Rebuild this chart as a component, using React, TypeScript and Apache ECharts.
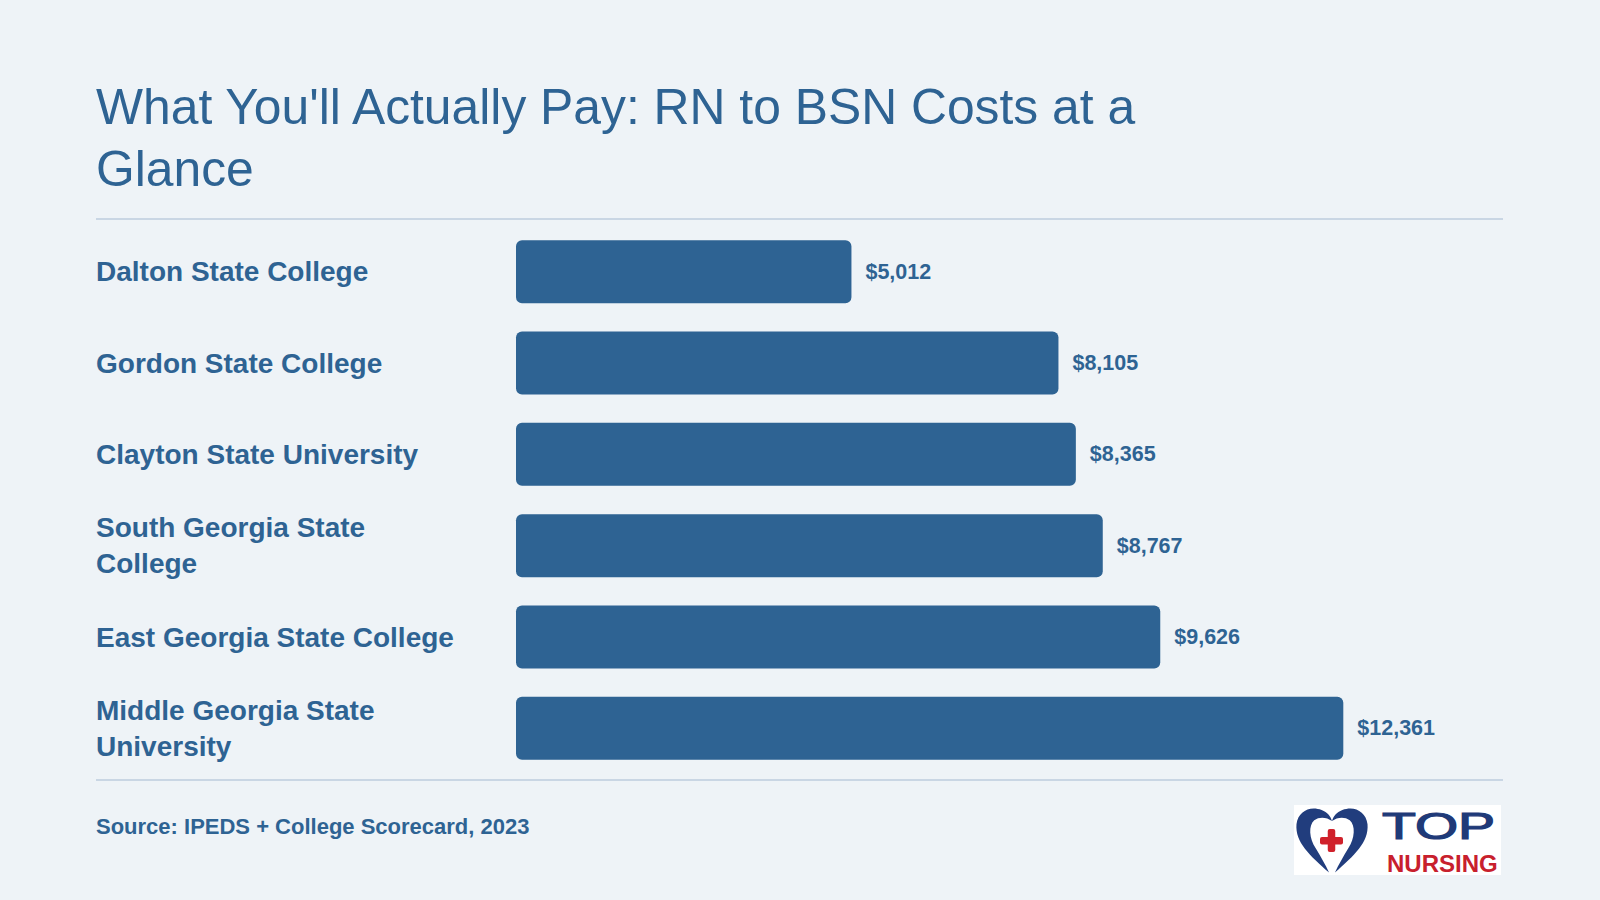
import React, { useEffect, useRef } from 'react';
import * as echarts from 'echarts';

const categories = [
  'Dalton State College',
  'Gordon State College',
  'Clayton State University',
  'South Georgia State College',
  'East Georgia State College',
  'Middle Georgia State University',
];
const costs = [5012, 8105, 8365, 8767, 9626, 12361];

const titleText = "What You'll Actually Pay: RN to BSN Costs at a\nGlance";
const sourceText = 'Source: IPEDS + College Scorecard, 2023';

const FONT = '"Liberation Sans", Arial, Helvetica, sans-serif';
const BLUE = '#2e6393';
const BG = '#eef3f7';
const RULE = '#c9d6e4';

const HEART_D =
  'M46 84 C20 62 0 45 2 22 C4 6 20 -2 36 4 C44 7 48 12 50 18 C43 13 33 12 26 17 C18 24 19 40 28 53 C35 64 41 74 46 84 Z ' +
  'M54 84 C80 62 100 45 98 22 C96 6 80 -2 64 4 C56 7 52 12 50 18 C57 13 67 12 74 17 C82 24 81 40 72 53 C65 64 59 74 54 84 Z';

let registered = false;
function ensureShape() {
  if (registered) return;
  echarts.graphic.registerShape('heartLogo', echarts.graphic.extendPath(HEART_D, {}) as any);
  registered = true;
}

export default function App() {
  const ref = useRef<HTMLDivElement>(null);

  useEffect(() => {
    document.body.style.margin = '0';
    document.body.style.background = BG;
    if (!ref.current) return;
    ensureShape();
    const chart = echarts.init(ref.current, undefined, { renderer: 'svg' });
    chart.setOption({
      animation: false,
      backgroundColor: BG,
      title: {
        text: titleText,
        left: 96,
        top: 76,
        padding: 0,
        textStyle: {
          fontFamily: FONT,
          fontSize: 49.8,
          fontWeight: 'normal',
          lineHeight: 62,
          color: BLUE,
        },
      },
      grid: { left: 516, top: 226, height: 548, width: 937, containLabel: false },
      xAxis: {
        type: 'value',
        min: 0,
        max: 14000,
        show: false,
      },
      yAxis: {
        type: 'category',
        inverse: true,
        data: categories,
        axisLine: { show: false },
        axisTick: { show: false },
        splitLine: { show: false },
        axisLabel: {
          interval: 0,
          align: 'left',
          margin: 420,
          fontFamily: FONT,
          fontSize: 28,
          fontWeight: 'bold',
          color: BLUE,
          width: 370,
          overflow: 'break',
          lineHeight: 36,
        },
      },
      series: [
        {
          type: 'bar',
          data: costs,
          barWidth: 63,
          itemStyle: { color: BLUE, borderRadius: 6 },
          label: {
            show: true,
            position: 'right',
            distance: 14,
            fontFamily: FONT,
            fontSize: 21.5,
            fontWeight: 'bold',
            color: BLUE,
            formatter: (p: any) => '$' + Number(p.value).toLocaleString('en-US'),
          },
        },
      ],
      graphic: [
        {
          type: 'line',
          shape: { x1: 96, y1: 219, x2: 1503, y2: 219 },
          style: { stroke: RULE, lineWidth: 2 },
        },
        {
          type: 'line',
          shape: { x1: 96, y1: 780, x2: 1503, y2: 780 },
          style: { stroke: RULE, lineWidth: 2 },
        },
        {
          type: 'text',
          x: 96,
          y: 826.5,
          style: {
            text: sourceText,
            fill: BLUE,
            font: `bold 22px ${FONT}`,
            verticalAlign: 'middle',
            align: 'left',
          },
        },
        {
          type: 'group',
          children: [
            {
              type: 'rect',
              shape: { x: 1294, y: 805, width: 207, height: 70 },
              style: { fill: '#ffffff' },
            },
            {
              type: 'heartLogo',
              x: 1295,
              y: 807,
              scaleX: 0.74,
              scaleY: 0.78,
              style: { fill: '#213d7d' },
            },
            {
              type: 'rect',
              shape: { x: 1320, y: 837, width: 23, height: 7.5, r: 2 },
              style: { fill: '#d0212b' },
            },
            {
              type: 'rect',
              shape: { x: 1327.75, y: 829, width: 7.5, height: 23, r: 2 },
              style: { fill: '#d0212b' },
            },
            {
              type: 'text',
              x: 1382,
              y: 826,
              scaleX: 1.5,
              style: {
                text: 'TOP',
                fill: '#1f3a78',
                font: `37px ${FONT}`,
                verticalAlign: 'middle',
                align: 'left',
                stroke: '#1f3a78',
                lineWidth: 1.2,
              },
            },
            {
              type: 'text',
              x: 1387,
              y: 863.5,
              style: {
                text: 'NURSING',
                fill: '#c8202d',
                font: `bold 24px ${FONT}`,
                verticalAlign: 'middle',
                align: 'left',
              },
            },
          ],
        },
      ],
    });
    return () => chart.dispose();
  }, []);

  return <div ref={ref} style={{ width: 1600, height: 900 }} />;
}
